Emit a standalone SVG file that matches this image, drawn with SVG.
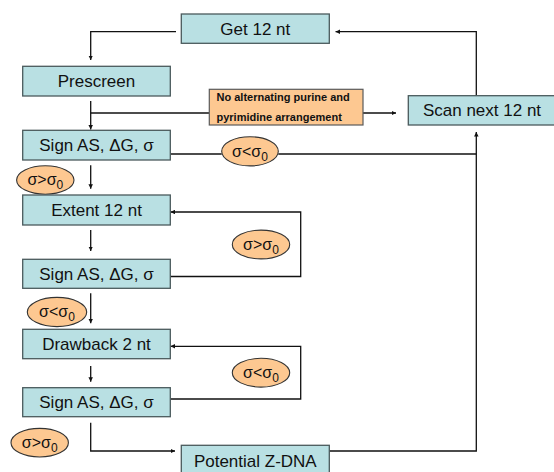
<svg xmlns="http://www.w3.org/2000/svg" width="554" height="472" viewBox="0 0 554 472">
<style>
.box{fill:#b9e0e3;stroke:#4a5a5c;stroke-width:1.3}
.org{fill:#fdc891;stroke:#5a5a5a;stroke-width:1.2}
.ell{fill:#fdc891;stroke:#333;stroke-width:1.1}
.t{font-family:"Liberation Sans",Arial,sans-serif;font-size:17px;fill:#111;text-anchor:middle}
.e{font-family:"Liberation Sans",Arial,sans-serif;font-size:16px;fill:#111;text-anchor:middle}
.b{font-family:"Liberation Sans",Arial,sans-serif;font-size:11px;font-weight:bold;fill:#111}
.ln{fill:none;stroke:#111;stroke-width:1.3}
</style>
<defs>
<marker id="ar" viewBox="0 0 10 10" refX="10" refY="5" markerWidth="4.5" markerHeight="4.5" markerUnits="userSpaceOnUse" orient="auto">
<path d="M0,0 L10,5 L0,10 z" fill="#111"/>
</marker>
</defs>
<rect width="554" height="472" fill="#fff"/>
<g id="connectors">
<path class="ln" d="M176,31.7 H90.7 V60" marker-end="url(#ar)"/>
<path class="ln" d="M90.7,101 V129.5" marker-end="url(#ar)"/>
<path class="ln" d="M90.7,113 H209"/>
<path class="ln" d="M363,113 H396" marker-end="url(#ar)"/>
<path class="ln" d="M476.3,95.7 V31.7 H335.5" marker-end="url(#ar)"/>
<path class="ln" d="M170.3,154 H221.7"/>
<path class="ln" d="M278.3,154 H476.3"/>
<path class="ln" d="M329.3,451 H476.3 V132" marker-end="url(#ar)"/>
<path class="ln" d="M90.7,165.3 V188.7" marker-end="url(#ar)"/>
<path class="ln" d="M90.7,230 V251" marker-end="url(#ar)"/>
<path class="ln" d="M170.3,276.5 H300.7 V212 H170.5" marker-end="url(#ar)"/>
<path class="ln" d="M90.7,293.3 V323.3" marker-end="url(#ar)"/>
<path class="ln" d="M170.3,399 H300.7 V346.3 H170.5" marker-end="url(#ar)"/>
<path class="ln" d="M90.7,366 V381.7" marker-end="url(#ar)"/>
<path class="ln" d="M90.7,422.7 V451 H175" marker-end="url(#ar)"/>
</g>
<g id="get12">
<rect class="box" x="181.3" y="14" width="148" height="29.3"/>
<text class="t" x="255.3" y="34.8">Get 12 nt</text>
</g>
<g id="prescreen">
<rect class="box" x="22.7" y="66.3" width="147.6" height="29.7"/>
<text class="t" x="96.5" y="87">Prescreen</text>
</g>
<g id="noalt">
<rect class="org" x="209.3" y="89.3" width="153.7" height="35.7"/>
<text class="b" x="216.5" y="101">No alternating purine and</text>
<text class="b" x="216.5" y="121">pyrimidine arrangement</text>
</g>
<g id="scan">
<rect class="box" x="408.3" y="95.7" width="150" height="29.3"/>
<text class="t" x="482" y="116.4">Scan next 12 nt</text>
</g>
<g id="sign1">
<rect class="box" x="22.7" y="130.3" width="147.6" height="29.7"/>
<text class="t" x="96.5" y="151.2">Sign AS, ΔG, σ</text>
</g>
<g id="c1">
<ellipse class="ell" cx="250" cy="151.3" rx="28.3" ry="14.6"/>
<text class="e" x="250" y="156.5">σ&lt;σ<tspan font-size="12" dy="4">0</tspan></text>
</g>
<g id="c2">
<ellipse class="ell" cx="45.3" cy="180" rx="28.7" ry="14.3"/>
<text class="e" x="45.3" y="185.2">σ&gt;σ<tspan font-size="12" dy="4">0</tspan></text>
</g>
<g id="extent">
<rect class="box" x="22.7" y="195" width="147.6" height="30"/>
<text class="t" x="96.5" y="216">Extent 12 nt</text>
</g>
<g id="c3">
<ellipse class="ell" cx="261" cy="244.5" rx="28.7" ry="14.4"/>
<text class="e" x="261" y="249.7">σ&gt;σ<tspan font-size="12" dy="4">0</tspan></text>
</g>
<g id="sign2">
<rect class="box" x="22.7" y="259.3" width="147.6" height="29"/>
<text class="t" x="96.5" y="279.8">Sign AS, ΔG, σ</text>
</g>
<g id="c4">
<ellipse class="ell" cx="57" cy="312" rx="29.7" ry="14.6"/>
<text class="e" x="57" y="317.2">σ&lt;σ<tspan font-size="12" dy="4">0</tspan></text>
</g>
<g id="drawback">
<rect class="box" x="22.7" y="329.3" width="147.6" height="29.4"/>
<text class="t" x="96.5" y="350">Drawback 2 nt</text>
</g>
<g id="c5">
<ellipse class="ell" cx="261" cy="372.7" rx="28.7" ry="14.4"/>
<text class="e" x="261" y="377.9">σ&lt;σ<tspan font-size="12" dy="4">0</tspan></text>
</g>
<g id="sign3">
<rect class="box" x="22.7" y="387.7" width="147.6" height="29"/>
<text class="t" x="96.5" y="408.2">Sign AS, ΔG, σ</text>
</g>
<g id="c6">
<ellipse class="ell" cx="39.7" cy="442.7" rx="28.7" ry="14.3"/>
<text class="e" x="39.7" y="447.9">σ&gt;σ<tspan font-size="12" dy="4">0</tspan></text>
</g>
<g id="zdna">
<rect class="box" x="181.3" y="445.3" width="148" height="30"/>
<text class="t" x="255.3" y="467">Potential Z-DNA</text>
</g>
</svg>
